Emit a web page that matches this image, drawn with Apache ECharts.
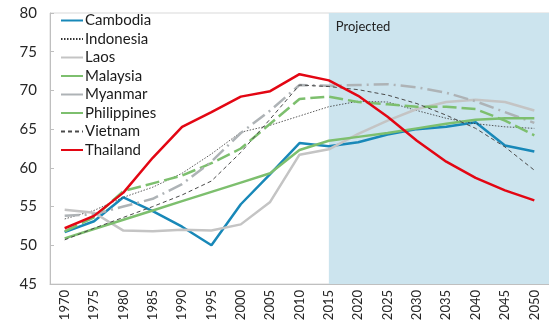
<!DOCTYPE html>
<html>
<head>
<meta charset="utf-8">
<script src="https://cdn.jsdelivr.net/npm/echarts@6/dist/echarts.min.js"></script>
<style>
  html, body { margin: 0; padding: 0; background: #ffffff; }
  #chart { width: 549px; height: 331px; }
</style>
</head>
<body>
<div id="chart"></div>
<script>
// Five-year steps, historical through 2015 and projected afterwards
const years = ['1970','1975','1980','1985','1990','1995','2000','2005','2010',
               '2015','2020','2025','2030','2035','2040','2045','2050'];
const yTicks = { min: 45, max: 80, step: 5 };
const projectionStart = '2015';

const cambodia    = [51.7, 53.1, 56.2, 54.4, 52.4, 50.0, 55.3, 59.2, 63.2, 62.8, 63.3, 64.3, 65.0, 65.3, 65.9, 62.9, 62.1];
const indonesia   = [53.4, 54.5, 56.2, 57.5, 59.3, 61.8, 64.6, 65.5, 66.7, 67.9, 68.6, 68.5, 67.4, 66.4, 65.7, 65.3, 65.1];
const laos        = [54.6, 54.2, 51.9, 51.8, 52.0, 51.9, 52.7, 55.6, 61.7, 62.4, 64.4, 66.1, 67.6, 68.5, 68.8, 68.5, 67.4];
const malaysia    = [51.8, 53.6, 57.0, 58.0, 59.0, 60.6, 62.5, 65.7, 68.9, 69.2, 68.5, 68.2, 67.9, 67.9, 67.6, 66.1, 64.2];
const myanmar     = [53.8, 54.0, 55.0, 56.0, 57.9, 60.8, 64.5, 67.4, 70.7, 70.6, 70.7, 70.8, 70.4, 69.7, 68.6, 67.2, 65.8];
const philippines = [50.9, 52.1, 53.3, 54.5, 55.7, 56.9, 58.1, 59.3, 62.3, 63.5, 64.0, 64.5, 65.1, 65.7, 66.2, 66.4, 66.4];
const vietnam     = [50.7, 52.2, 53.6, 55.0, 56.5, 58.3, 62.0, 66.3, 70.7, 70.5, 70.1, 69.4, 68.3, 66.8, 65.1, 62.7, 59.7];
const thailand    = [52.2, 53.8, 56.8, 61.3, 65.3, 67.2, 69.2, 69.9, 72.1, 71.3, 69.3, 66.6, 63.5, 60.8, 58.7, 57.1, 55.8];

const FONT = 'Lato, "Open Sans", sans-serif';

function lineSeries(name, values, color, width, dash, extra) {
  return Object.assign({
    name: name,
    type: 'line',
    data: values,
    symbol: 'none',
    smooth: false,
    lineStyle: { color: color, width: width, type: dash, cap: 'butt' },
    itemStyle: { color: color },
    emphasis: { disabled: true }
  }, extra || {});
}

const chart = echarts.init(document.getElementById('chart'), null, { renderer: 'canvas' });

chart.setOption({
  animation: false,
  backgroundColor: '#ffffff',
  textStyle: { fontFamily: FONT },
  grid: {
    left: 50, top: 13, width: 502, height: 271,
    show: true, borderColor: '#d9d9d9', borderWidth: 1, backgroundColor: 'transparent'
  },
  legend: {
    orient: 'vertical',
    left: 55, top: 8,
    itemWidth: 22, itemHeight: 14, itemGap: 3.5,
    // plain line samples, no marker dot
    itemStyle: { opacity: 0 },
    textStyle: { fontFamily: FONT, fontSize: 15, color: '#1a1a1a', lineHeight: 14, padding: [0, 0, 0, -3] },
    data: [
      'Cambodia', 'Indonesia', 'Laos',
      { name: 'Malaysia', lineStyle: { type: 'solid' } },
      { name: 'Myanmar', lineStyle: { type: 'solid' } },
      'Philippines', 'Vietnam', 'Thailand'
    ]
  },
  xAxis: {
    type: 'category',
    data: years,
    boundaryGap: true,
    axisLine: { lineStyle: { color: '#bfbfbf', width: 1 } },
    axisTick: { inside: true, length: 5, lineStyle: { color: '#bfbfbf' } },
    axisLabel: { rotate: 90, margin: 6, fontSize: 13, color: '#262626', fontFamily: FONT, interval: 0 },
    splitLine: { show: false }
  },
  yAxis: {
    type: 'value',
    min: yTicks.min, max: yTicks.max, interval: yTicks.step,
    axisLine: { show: true, lineStyle: { color: '#bfbfbf', width: 1 } },
    axisTick: { show: true, inside: true, length: 4, lineStyle: { color: '#bfbfbf' } },
    axisLabel: { margin: 13, fontSize: 15, color: '#262626', fontFamily: FONT },
    splitLine: { show: false }
  },
  series: [
    lineSeries('Cambodia', cambodia, '#1888b8', 2.5, 'solid', {
      markArea: {
        silent: true,
        itemStyle: { color: '#cce4ee', opacity: 1 },
        label: { show: true, position: 'insideTopLeft', distance: 7, fontSize: 13, color: '#222222', fontFamily: FONT },
        data: [[{ name: 'Projected', xAxis: projectionStart }, {}]]
      }
    }),
    lineSeries('Indonesia', indonesia, '#333333', 0.8, [1.5, 1.5]),
    lineSeries('Laos', laos, '#c4c4c4', 2.5, 'solid'),
    lineSeries('Malaysia', malaysia, '#7dbf6e', 2.5, [14, 5]),
    lineSeries('Myanmar', myanmar, '#aeb3b6', 2.5, [15, 5, 2, 5]),
    lineSeries('Philippines', philippines, '#7dbf6e', 2.5, 'solid'),
    lineSeries('Vietnam', vietnam, '#4a4a4a', 1, [4, 3]),
    lineSeries('Thailand', thailand, '#e30613', 2.5, 'solid')
  ]
});
</script>
</body>
</html>
